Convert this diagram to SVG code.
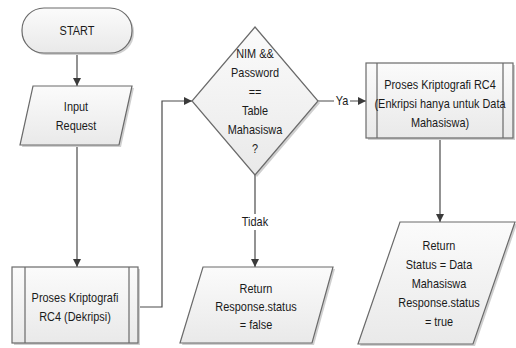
<svg xmlns="http://www.w3.org/2000/svg" width="516" height="348" viewBox="0 0 516 348">
<defs>
<linearGradient id="fillg" x1="0" y1="0" x2="0" y2="1">
<stop offset="0" stop-color="#fbfbfb"/>
<stop offset="1" stop-color="#e9e9e9"/>
</linearGradient>
<marker id="arr" viewBox="0 0 10 10" refX="10" refY="5" markerWidth="8" markerHeight="8" markerUnits="userSpaceOnUse" orient="auto">
<path d="M0,0 L10,5 L0,10 z" fill="#3a3a3a"/>
</marker>
</defs>
<style>
.shape{fill:url(#fillg);stroke:#6a6a6a;stroke-width:1.2}
.shadow{fill:#cfcfcf;stroke:none}
.inner{stroke:#6a6a6a;stroke-width:1.2;fill:none}
.conn{stroke:#4a4a4a;stroke-width:1.2;fill:none}
text{font-family:"Liberation Sans",Arial,sans-serif;font-size:13px;fill:#1a1a1a;text-anchor:middle}
.lbl{fill:#ffffff;stroke:none}
</style>
<g id="connectors">
<path class="conn" d="M77,53 V86" marker-end="url(#arr)"/>
<path class="conn" d="M77,145 V267" marker-end="url(#arr)"/>
<path class="conn" d="M138,307 H162 V101 H192" marker-end="url(#arr)"/>
<path class="conn" d="M318,101 H366" marker-end="url(#arr)"/>
<path class="conn" d="M255,175 V267" marker-end="url(#arr)"/>
<path class="conn" d="M440,138 V222" marker-end="url(#arr)"/>
<rect class="lbl" x="334" y="93" width="16" height="16"/>
<text transform="translate(342,105) scale(0.84,1)">Ya</text>
<rect class="lbl" x="240" y="214" width="30" height="16"/>
<text transform="translate(255,226) scale(0.84,1)">Tidak</text>
</g>
<g id="start">
<rect class="shadow" x="24" y="10" width="110" height="45" rx="22"/>
<rect class="shape" x="22" y="8" width="110" height="45" rx="22"/>
<text transform="translate(77,35) scale(0.84,1)">START</text>
</g>
<g id="input">
<path class="shadow" d="M35,88 H134 L121,147 H22 Z"/>
<path class="shape" d="M33,86 H132 L119,145 H20 Z"/>
<g transform="translate(76,0) scale(0.84,1)">
<text x="0" y="111">Input</text>
<text x="0" y="130">Request</text>
</g>
</g>
<g id="dekripsi">
<rect class="shadow" x="14" y="269" width="126" height="76"/>
<rect class="shape" x="12" y="267" width="126" height="76"/>
<path class="inner" d="M25,267 V343 M129,267 V343"/>
<g transform="translate(75,0) scale(0.84,1)">
<text x="0" y="302">Proses Kriptografi</text>
<text x="0" y="321">RC4 (Dekripsi)</text>
</g>
</g>
<g id="decision">
<path class="shadow" d="M257,29 L320,103 L257,177 L194,103 Z"/>
<path class="shape" d="M255,27 L318,101 L255,175 L192,101 Z"/>
<g transform="translate(255,0) scale(0.84,1)">
<text x="0" y="58">NIM &amp;&amp;</text>
<text x="0" y="77">Password</text>
<text x="0" y="96">==</text>
<text x="0" y="115">Table</text>
<text x="0" y="134">Mahasiswa</text>
<text x="0" y="153">?</text>
</g>
</g>
<g id="enkripsi">
<rect class="shadow" x="368" y="65" width="147" height="75"/>
<rect class="shape" x="366" y="63" width="147" height="75"/>
<path class="inner" d="M377,63 V138 M503,63 V138"/>
<g transform="translate(440,0) scale(0.84,1)">
<text x="0" y="89">Proses Kriptografi RC4</text>
<text x="0" y="108">(Enkripsi hanya untuk Data</text>
<text x="0" y="127">Mahasiswa)</text>
</g>
</g>
<g id="return-false">
<path class="shadow" d="M205,269 H335 L314,345 H182 Z"/>
<path class="shape" d="M203,267 H333 L312,343 H180 Z"/>
<g transform="translate(256,0) scale(0.84,1)">
<text x="0" y="293">Return</text>
<text x="0" y="311">Response.status</text>
<text x="0" y="329">= false</text>
</g>
</g>
<g id="return-true">
<path class="shadow" d="M402,224 H517 L475,346 H360 Z"/>
<path class="shape" d="M400,222 H515 L473,344 H358 Z"/>
<g transform="translate(439,0) scale(0.84,1)">
<text x="0" y="250">Return</text>
<text x="0" y="269">Status = Data</text>
<text x="0" y="288">Mahasiswa</text>
<text x="0" y="307">Response.status</text>
<text x="0" y="326">= true</text>
</g>
</g>
</svg>
